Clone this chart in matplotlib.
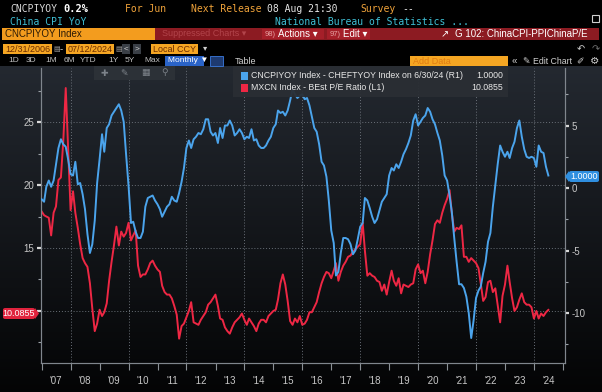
import numpy as np
import pandas as pd
import matplotlib
matplotlib.use("Agg")
import matplotlib.pyplot as plt
import matplotlib.dates as mdates
from matplotlib.patches import Rectangle, FancyBboxPatch, Polygon

plt.rcParams['font.family'] = ['Liberation Sans', 'DejaVu Sans']

# ---- data: monthly, month-end, 12/31/2006 .. 06/30/2024 ----
start_date = "2006-12-31"

# CNCPIYOY Index - CHEFTYOY Index (right axis)
cpi_ppi_spread = [
    -0.9,
    -1.1, 0.1, 0.6, 0.1, 0.6, 1.9, 3.2, 3.9, 3.5, 3.3, 2.3, 1.1,         # 2007
    1.0, 2.1, 0.3, 0.4, -0.5, -1.7, -3.7, -5.2, -4.5, -2.6, 0.4, 2.3,     # 2008
    4.3, 2.9, 4.8, 5.1, 5.8, 6.1, 6.4, 6.7, 6.2, 5.3, 2.7, 0.2,           # 2009
    -2.8, -2.7, -3.5, -4.0, -4.0, -3.5, -1.5, -0.8, -0.7, -0.6, -1.0, -1.3,  # 2010
    -1.7, -2.3, -1.9, -1.5, -1.3, -0.7, -1.0, -1.1, -0.4, 0.5, 1.6, 3.2,  # 2011
    3.8, 3.2, 3.9, 4.1, 4.4, 4.3, 4.7, 5.5, 5.5, 4.5, 4.2, 4.4,           # 2012
    3.6, 4.8, 4.0, 5.0, 5.0, 5.4, 5.0, 4.2, 4.4, 4.7, 4.4, 3.9,           # 2013
    4.1, 4.0, 4.7, 3.8, 3.9, 3.4, 3.2, 3.2, 3.4, 3.8, 4.1, 4.8,           # 2014
    5.1, 6.2, 6.0, 6.1, 5.8, 6.2, 7.0, 7.9, 7.5, 7.2, 7.4, 7.5,           # 2015
    7.1, 7.2, 6.6, 5.7, 4.8, 4.5, 3.5, 2.1, 1.8, 0.9, -1.0, -3.4,         # 2016
    -4.4, -7.0, -6.7, -5.2, -4.0, -4.0, -4.1, -4.5, -5.3, -5.0, -4.1, -3.1,  # 2017
    -2.8, -0.8, -1.0, -1.6, -2.3, -2.8, -2.5, -1.8, -1.1, -0.8, -0.5, 1.0,   # 2018
    1.6, 1.4, 1.9, 1.6, 2.1, 2.7, 3.1, 3.6, 4.2, 5.4, 5.9, 5.0,           # 2019
    5.3, 5.6, 5.8, 6.4, 6.1, 5.5, 5.1, 4.4, 3.8, 2.6, 1.0, 0.6,           # 2020
    -0.6, -1.9, -4.0, -5.9, -7.7, -7.7, -8.0, -8.7, -10.0, -12.0, -10.6, -8.8,  # 2021
    -8.2, -7.9, -6.8, -5.9, -4.3, -3.6, -1.5, 0.2, 1.9, 3.4, 2.9, 2.5,    # 2022
    2.9, 2.4, 3.2, 3.7, 4.8, 5.4, 4.1, 3.1, 2.5, 2.4, 2.5, 2.4,           # 2023
    1.7, 3.4, 2.9, 2.8, 1.7, 1.0,                                         # 2024
]

# MXCN Index - BEst P/E Ratio (left axis)
mxcn_pe = [
    17.9,
    17.6, 17.5, 17.4, 16.0, 17.8, 18.3, 20.4, 20.6, 23.5, 27.7, 23.0, 18.0,  # 2007
    19.5, 17.8, 16.6, 15.3, 14.2, 13.8, 13.5, 12.2, 10.2, 8.4, 9.0, 10.1,    # 2008
    9.6, 9.9, 10.6, 12.4, 13.9, 15.2, 16.7, 15.2, 16.3, 15.9, 16.2, 17.0,    # 2009
    15.6, 16.0, 16.4, 13.6, 12.7, 12.9, 12.9, 13.3, 13.8, 14.0, 13.6, 13.3,  # 2010
    13.1, 12.0, 11.5, 11.3, 11.3, 11.0, 10.4, 9.7, 7.8, 8.8, 9.0, 9.5,       # 2011
    10.0, 10.7, 9.1, 9.0, 8.9, 9.3, 9.6, 9.9, 10.5, 10.7, 11.0, 11.3,        # 2012
    10.4, 9.4, 9.3, 8.7, 8.4, 8.2, 8.7, 9.1, 9.3, 9.5, 9.8, 9.3,             # 2013
    8.9, 9.4, 9.1, 8.8, 8.4, 9.0, 9.3, 9.3, 9.1, 9.6, 9.8, 10.0,             # 2014
    10.1, 10.9, 12.2, 12.9, 12.1, 10.8, 9.2, 8.9, 9.4, 9.1, 9.6, 8.9,        # 2015
    9.0, 9.3, 9.9, 9.9, 10.3, 10.7, 11.5, 12.2, 12.7, 13.1, 13.0, 12.6,      # 2016
    13.2, 13.8, 12.4, 13.1, 13.6, 13.9, 14.3, 14.4, 14.7, 14.9, 15.1, 15.3,  # 2017
    17.0, 14.8, 12.8, 13.0, 12.8, 12.7, 12.4, 12.3, 11.6, 12.1, 11.3, 12.3,  # 2018
    13.2, 12.4, 12.0, 12.6, 11.4, 12.1, 12.0, 11.9, 12.1, 12.2, 13.3, 13.7,  # 2019
    13.0, 13.2, 12.2, 13.1, 14.5, 15.6, 16.9, 17.2, 17.0, 17.8, 18.4, 18.9,  # 2020
    19.6, 17.8, 16.3, 16.6, 16.5, 16.8, 14.3, 14.3, 13.9, 14.2, 14.0, 13.8,  # 2021
    13.4, 12.2, 10.8, 11.1, 12.3, 12.4, 11.5, 11.8, 10.5, 9.1, 11.2, 12.1,   # 2022
    13.6, 12.3, 11.0, 10.0, 10.3, 10.9, 11.4, 10.7, 10.5, 10.5, 10.3, 9.4,   # 2023
    10.0, 9.4, 9.8, 9.6, 9.9, 10.0855,                                       # 2024
]

years = list(range(2007, 2025))
year_labels = ["'%02d" % (y % 100) for y in years]
left_ticks = [10, 15, 20, 25]
left_labels = ["", "15", "20", "25"]
right_ticks = [-10, -5, 0, 5]
right_labels = ["-10", "-5", "0", "5"]
periods = ["1D", "3D", "1M", "6M", "YTD", "1Y", "5Y", "Max"]

dates = pd.date_range(start_date, periods=len(mxcn_pe), freq=pd.offsets.MonthEnd())

# ---- figure ----
W, H = 602, 392
fig = plt.figure(figsize=(W / 100, H / 100), dpi=100)
fig.patch.set_facecolor("black")


def txt(x, y, s, color, size=7, ha="left", va="center", **kw):
    return fig.text(x / W, 1 - y / H, s, color=color, fontsize=size, ha=ha, va=va, **kw)


def rect(x0, y0, x1, y1, color, **kw):
    fig.add_artist(Rectangle((x0 / W, 1 - y1 / H), (x1 - x0) / W, (y1 - y0) / H,
                             transform=fig.transFigure, facecolor=color,
                             edgecolor=kw.pop("edgecolor", "none"), **kw))


# chart background gradient
bg = fig.add_axes([0, 0, 1, 1 - 66 / H])
top_c = np.array([0.14, 0.16, 0.19])
bot_c = np.array([0.015, 0.017, 0.02])
t = np.linspace(0, 1, 200)[:, None, None]
bg.imshow(top_c * (1 - t) + bot_c * t, aspect="auto", extent=[0, 1, 0, 1])
bg.axis("off")

# ---- header ----
mono = "DejaVu Sans Mono"
orange = "#f0a33a"
teal = "#3fc0d6"
txt(10, 9, "CNCPIYOY", "#d9d9d9", 7, family=mono)
txt(63, 9, "0.2%", "white", 7.5, family=mono, weight="bold")
txt(125, 9, "For Jun", orange, 7, family=mono)
txt(191, 9, "Next Release", orange, 7, family=mono)
txt(267, 9, "08 Aug 21:30", "#e6e6e6", 7, family=mono)
txt(360, 9, "Survey", orange, 7, family=mono)
txt(402, 9, "--", "#e6e6e6", 7, family=mono)
txt(10, 22, "China CPI YoY", teal, 7, family=mono)
txt(275, 22, "National Bureau of Statistics ...", teal, 7, family=mono)
rect(592, 15, 599, 22, "none", edgecolor="#cfcfcf", linewidth=0.8)

# row 3: title bars
rect(2, 28, 155, 40, "#f39c1e")
txt(5, 34, "CNCPIYOY Index", "#2b1a05", 7)
rect(155, 28, 599, 40, "#8c1b22")
txt(162, 34, "Suppressed Charts \u25be", "#b2444b", 6.5)
rect(262, 29, 324, 39, "#a51f29")
txt(265, 34, "98)", "#e6a0a0", 5.5)
txt(278, 34, "Actions \u25be", "white", 7)
rect(327, 29, 370, 39, "#a51f29")
txt(330, 34, "97)", "#e6a0a0", 5.5)
txt(343, 34, "Edit \u25be", "white", 7)
txt(441, 34, "\u2197", "white", 7)
txt(455, 34, "G 102: ChinaCPI-PPIChinaP/E", "white", 7)

# row 4: date range
rect(3, 44, 52, 54, "#f5a623")
txt(5, 49, "12/31/2006", "#6a2b00", 6.5)
txt(53, 49, "\u25a4", "#a0a0a0", 5, family="DejaVu Sans")
txt(60, 49, "-", "#d0d0d0", 7)
rect(66, 44, 114, 54, "#f5a623")
txt(68, 49, "07/12/2024", "#6a2b00", 6.5)
txt(115, 49, "\u25a4", "#a0a0a0", 5, family="DejaVu Sans")
rect(122, 44, 130, 54, "#3a3f46")
txt(126, 49, "<", "#d0d0d0", 6, ha="center")
rect(133, 44, 141, 54, "#3a3f46")
txt(137, 49, ">", "#d0d0d0", 6, ha="center")
rect(151, 44, 198, 54, "#f5a623")
txt(153, 49, "Local CCY", "#6a2b00", 6.5)
txt(203, 49, "\u25be", "#d0d0d0", 6)
txt(577, 49, "\u21b6", "#d0d0d0", 7)
txt(592, 49, "\u21b7", "#707070", 7)

# row 5: periods and controls
period_x = [8, 26, 45, 64, 80, 108, 125, 144]
for px_, p in zip(period_x, periods):
    txt(px_, 61, p, "#bdbdbd", 6)
rect(165, 56, 204, 66, "#2a63c8")
txt(168, 61, "Monthly \u25bc", "white", 6)
rect(210, 56, 223, 66, "#1e3a70", edgecolor="#3b7be0", linewidth=0.6)
txt(235, 61, "Table", "#d0d0d0", 6.5)
rect(410, 56, 508, 66, "#f5a623")
txt(413, 61, "Add Data", "#e07b12", 6.5)
txt(512, 61, "\u00ab", "#d0d0d0", 7)
txt(522, 61, "\u270e", "#d0d0d0", 6.5, family="DejaVu Sans")
txt(533, 61, "Edit Chart", "#d0d0d0", 6.3)
txt(576, 61, "\u2710", "#d0d0d0", 6.5, family="DejaVu Sans")
txt(590, 61, "\u2699", "#d0d0d0", 7.5, family="DejaVu Sans")

# ---- main chart ----
ax = fig.add_axes([41 / W, 29 / H, 524 / W, 295 / H])
ax.patch.set_alpha(0)
ax2 = ax.twinx()
ax2.patch.set_alpha(0)

ax.set_xlim(mdates.date2num(pd.Timestamp("2006-12-23")),
            mdates.date2num(pd.Timestamp("2025-01-26")))
ax.set_ylim(5.87, 29.29)
ax2.set_ylim(-14.0, 9.6)

grid_kw = dict(color="#6a7078", linestyle=(0, (1, 2)), linewidth=0.7, zorder=0)
for v in left_ticks:
    ax.axhline(v, **grid_kw)
for y in years[1::2]:
    ax.axvline(mdates.date2num(pd.Timestamp(year=y, month=1, day=1)), **grid_kw)

ax.plot(dates, mxcn_pe, color="#ee2744", lw=1.4, zorder=3)
ax2.plot(dates, cpi_ppi_spread, color="#4ba4ec", lw=1.4, zorder=3)

# x axis: year boundaries as ticks, labels mid-year
ax.set_xticks([mdates.date2num(pd.Timestamp(year=y, month=1, day=1)) for y in years + [2025]])
ax.set_xticklabels([])
ax.set_xticks([mdates.date2num(pd.Timestamp(year=y, month=7, day=2)) for y in years], minor=True)
ax.set_xticklabels(year_labels, minor=True)
ax.tick_params(axis="x", which="major", length=5, width=0.8, color="#8a9096", direction="out")
ax.tick_params(axis="x", which="minor", length=0, pad=9, labelsize=7, labelcolor="#c8c8c8")

ax.set_yticks(left_ticks)
ax.set_yticklabels(left_labels)
ax.set_yticks([7.5, 12.5, 17.5, 22.5, 27.5], minor=True)
ax.tick_params(axis="y", which="major", length=3, width=1.6, color="#d8d8d8", pad=2,
               labelsize=7, labelcolor="#c8c8c8")
ax.tick_params(axis="y", which="minor", length=2, width=0.8, color="#9aa0a6")

ax2.set_yticks(right_ticks)
ax2.set_yticklabels(right_labels)
ax2.set_yticks([-12.5, -7.5, -2.5, 2.5, 7.5], minor=True)
ax2.tick_params(axis="y", which="major", length=3, width=1.6, color="#d8d8d8", pad=2,
                labelsize=7, labelcolor="#c8c8c8")
ax2.tick_params(axis="y", which="minor", length=2, width=0.8, color="#9aa0a6")

for a in (ax, ax2):
    a.spines["top"].set_visible(False)
    for s in ("left", "right", "bottom"):
        a.spines[s].set_color("#80868d")
        a.spines[s].set_linewidth(0.8)

# small chart toolbar
rect(94, 66, 175, 80, "#2c3137")
for gx, g in zip([104, 124, 145, 165], ["\u271a", "\u270e", "\u25a6", "\u26b2"]):
    txt(gx, 73, g, "#7d838a", 6.5, ha="center", family="DejaVu Sans")

# legend box
rect(233, 66, 508, 97, "#2a2e34", alpha=0.95)
rect(241, 72, 248, 80, "#4ba4ec")
rect(241, 84, 248, 92, "#ee2744")
txt(251, 76, "CNCPIYOY Index - CHEFTYOY Index on 6/30/24 (R1)", "#e8e8e8", 6.3)
txt(503, 76, "%.4f" % cpi_ppi_spread[-1], "#e8e8e8", 6.3, ha="right")
txt(251, 88, "MXCN Index - BEst P/E Ratio (L1)", "#e8e8e8", 6.3)
txt(503, 88, "%.4f" % mxcn_pe[-1], "#e8e8e8", 6.3, ha="right")

# last-value tags
fig.add_artist(FancyBboxPatch((3 / W, 1 - 319 / H), 32 / W, 11 / H,
                              boxstyle="round,pad=0,rounding_size=0.004",
                              transform=fig.transFigure, facecolor="#e0233d", edgecolor="none"))
fig.add_artist(Polygon([(35 / W, 1 - 308 / H), (39 / W, 1 - 313.5 / H), (35 / W, 1 - 319 / H)],
                       closed=True, transform=fig.transFigure, facecolor="#e0233d", edgecolor="none"))
txt(19, 313.5, "%.4f" % mxcn_pe[-1], "white", 6.5, ha="center")

fig.add_artist(FancyBboxPatch((569 / W, 1 - 182 / H), 30 / W, 11 / H,
                              boxstyle="round,pad=0,rounding_size=0.004",
                              transform=fig.transFigure, facecolor="#2f8fe0", edgecolor="none"))
fig.add_artist(Polygon([(569 / W, 1 - 171 / H), (565 / W, 1 - 176.5 / H), (569 / W, 1 - 182 / H)],
                       closed=True, transform=fig.transFigure, facecolor="#2f8fe0", edgecolor="none"))
txt(584, 176.5, "%.4f" % cpi_ppi_spread[-1], "white", 6.5, ha="center")

fig.savefig("out.png", dpi=100, facecolor=fig.get_facecolor())
